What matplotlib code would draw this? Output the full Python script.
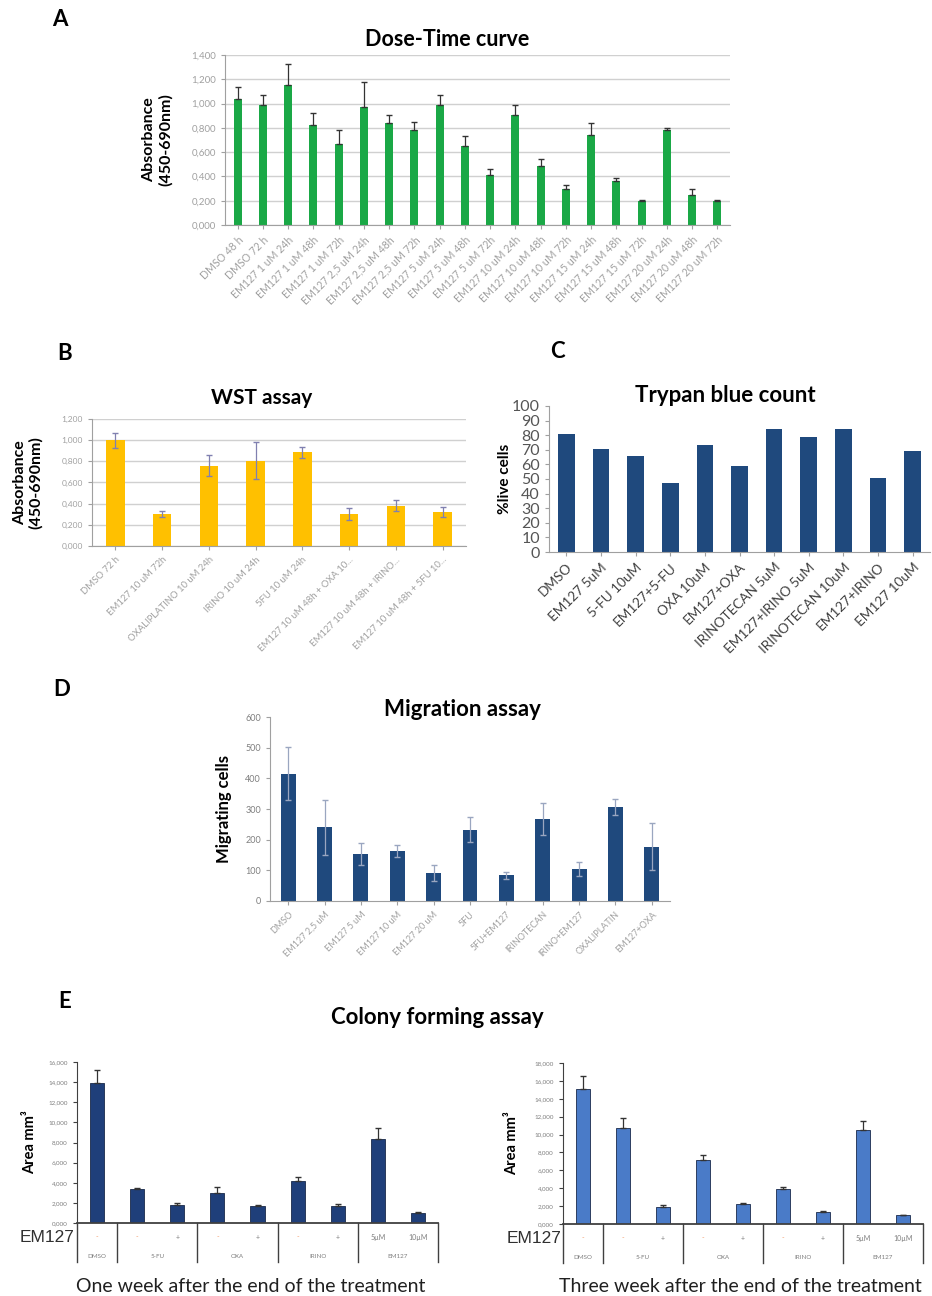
import numpy as np
import matplotlib
matplotlib.use("Agg")
import matplotlib.pyplot as plt
import matplotlib.transforms as mtrans

plt.rcParams['font.family'] = ['Lato', 'DejaVu Sans']

################################################################
# A - Dose-Time curve
dose_labels = ["DMSO 48 h", "DMSO 72 h",
               "EM127 1 uM 24h", "EM127 1 uM 48h", "EM127 1 uM 72h",
               "EM127 2,5 uM 24h", "EM127 2,5 uM 48h", "EM127 2,5 uM 72h",
               "EM127 5 uM 24h", "EM127 5 uM 48h", "EM127 5 uM 72h",
               "EM127 10 uM 24h", "EM127 10 uM 48h", "EM127 10 uM 72h",
               "EM127 15 uM 24h", "EM127 15 uM 48h", "EM127 15 uM 72h",
               "EM127 20 uM 24h", "EM127 20 uM 48h", "EM127 20 uM 72h"]
dose_vals = [1.04, 0.99, 1.15, 0.82, 0.67, 0.975, 0.84, 0.78, 0.99, 0.65,
             0.41, 0.91, 0.49, 0.30, 0.74, 0.365, 0.20, 0.78, 0.25, 0.20]
dose_err = [0.10, 0.08, 0.18, 0.10, 0.11, 0.205, 0.07, 0.07, 0.08, 0.08,
            0.05, 0.08, 0.05, 0.03, 0.10, 0.02, 0.01, 0.02, 0.05, 0.005]

# B - WST assay
wst_labels = ["DMSO 72 h", "EM127 10 uM 72h", "OXALIPLATINO 10 uM 24h",
              "IRINO 10 uM 24h", "5FU 10 uM 24h", "EM127 10 uM 48h + OXA 10...",
              "EM127 10 uM 48h + IRINO...", "EM127 10 uM 48h + 5FU 10..."]
wst_vals = [1.00, 0.30, 0.76, 0.805, 0.885, 0.30, 0.38, 0.32]
wst_err = [0.07, 0.03, 0.10, 0.175, 0.05, 0.057, 0.05, 0.05]

# C - Trypan blue count
tryp_labels = ["DMSO", "EM127 5uM", "5-FU 10uM", "EM127+5-FU", "OXA 10uM",
               "EM127+OXA", "IRINOTECAN 5uM", "EM127+IRINO 5uM",
               "IRINOTECAN 10uM", "EM127+IRINO", "EM127 10uM"]
tryp_vals = [81, 70.5, 66, 47.5, 73.5, 59, 84, 78.5, 84, 50.5, 69]

# D - Migration assay
mig_labels = ["DMSO", "EM127 2,5 uM", "EM127 5 uM", "EM127 10 uM", "EM127 20 uM",
              "5FU", "5FU+EM127", "IRINOTECAN", "IRINO+EM127", "OXALIPLATIN",
              "EM127+OXA"]
mig_vals = [415, 240, 153, 163, 92, 232, 84, 266, 103, 305, 177]
mig_err = [87, 89, 35, 21, 27, 41, 12, 52, 23, 26, 76]

# E - Colony forming assay
col_signs = ["-", "-", "+", "-", "+", "-", "+", "5µM", "10µM"]
col_groups = ["DMSO", "5-FU", "OXA", "IRINO", "EM127"]
week1_vals = [13.93, 3.37, 1.80, 2.97, 1.72, 4.16, 1.72, 8.32, 0.99]
week1_err = [1.32, 0.13, 0.15, 0.59, 0.10, 0.39, 0.18, 1.15, 0.06]
week3_vals = [15.13, 10.78, 1.93, 7.14, 2.23, 3.87, 1.38, 10.56, 0.97]
week3_err = [1.37, 1.12, 0.17, 0.63, 0.07, 0.22, 0.11, 0.93, 0.07]
################################################################

W, H = 932, 1296
fig = plt.figure(figsize=(W / 100, H / 100), dpi=100)
GRAY = "#7f7f7f"


def ax_px(l, t, r, b):
    return fig.add_axes([l / W, 1 - b / H, (r - l) / W, (b - t) / H])


def comma_fmt(v, nd=3):
    return f"{v:.{nd}f}".replace(".", ",")


def style_axes(ax, grid=False):
    for s in ["top", "right"]:
        ax.spines[s].set_visible(False)
    ax.spines["left"].set_color("#a0a0a0")
    ax.spines["bottom"].set_color("#a0a0a0")
    ax.tick_params(colors="#a0a0a0", length=3, width=0.8)
    if grid:
        ax.yaxis.grid(True, color="#d0d0d0", lw=1)
        ax.set_axisbelow(True)


def letter(x, y, s):
    fig.text(x / W, 1 - y / H, s, fontsize=16, fontweight="bold", ha="center", va="center")


def title(x, y, s, size=16):
    fig.text(x / W, 1 - y / H, s, fontsize=size, fontweight="bold", ha="center", va="center")


# ---------- A ----------
letter(60, 20, "A")
title(447, 40, "Dose-Time curve", 15.5)
ax = ax_px(225, 55, 730, 225)
x = np.arange(len(dose_vals))
ax.bar(x, dose_vals, 0.32, color="#1aa846", zorder=2)
ax.errorbar(x, dose_vals, yerr=[np.zeros(len(dose_err)), dose_err], fmt="none",
            ecolor="#333333", elinewidth=0.9, capsize=2, zorder=3)
ax.set_xlim(-0.5, len(x) - 0.5)
ax.set_ylim(0, 1.4)
yt = np.arange(0, 1.401, 0.2)
ax.set_yticks(yt)
ax.set_yticklabels([comma_fmt(v) for v in yt], fontsize=7, color=GRAY)
ax.set_xticks(x)
ax.set_xticklabels(dose_labels, rotation=45, ha="right", rotation_mode="anchor",
                   fontsize=7.6, color=GRAY)
style_axes(ax, grid=True)
ax.set_ylabel("Absorbance\n(450-690nm)", fontsize=11.5, fontweight="bold")
ax.yaxis.set_label_coords(-0.103, 0.5)

# ---------- B ----------
letter(65, 353, "B")
title(262, 398, "WST assay", 15)
ax = ax_px(92, 419, 466, 546)
x = np.arange(len(wst_vals))
ax.bar(x, wst_vals, 0.4, color="#ffc000", zorder=2)
ax.errorbar(x, wst_vals, yerr=wst_err, fmt="none", ecolor="#8080b0",
            elinewidth=0.9, capsize=2, zorder=3)
ax.set_xlim(-0.5, len(x) - 0.5)
ax.set_ylim(0, 1.2)
yt = np.arange(0, 1.201, 0.2)
ax.set_yticks(yt)
ax.set_yticklabels([comma_fmt(v) for v in yt], fontsize=6, color=GRAY)
ax.set_xticks(x)
ax.set_xticklabels(wst_labels, rotation=45, ha="right", rotation_mode="anchor",
                   fontsize=6.8, color=GRAY)
style_axes(ax, grid=True)
ax.set_ylabel("Absorbance\n(450-690nm)", fontsize=11.5, fontweight="bold")
ax.yaxis.set_label_coords(-0.13, 0.5)

# ---------- C ----------
letter(557, 352, "C")
title(725, 395, "Trypan blue count", 16)
ax = ax_px(549, 406, 930, 552)
x = np.arange(len(tryp_vals))
ax.bar(x, tryp_vals, 0.48, color="#1f497d", zorder=2)
ax.set_xlim(-0.5, len(x) - 0.5)
ax.set_ylim(0, 100)
ax.set_yticks(np.arange(0, 101, 10))
ax.set_xticks(x)
ax.set_xticklabels(tryp_labels, rotation=45, ha="right", rotation_mode="anchor",
                   fontsize=9.8, color="#404040")
style_axes(ax)
ax.tick_params(axis="y", labelcolor="#555555", labelsize=11.5)
ax.tick_params(axis="x", labelcolor="#404040")
ax.set_ylabel("%live cells", fontsize=11, fontweight="bold")
ax.yaxis.set_label_coords(-0.097, 0.5)

# ---------- D ----------
letter(62, 690, "D")
title(462, 710, "Migration assay", 16)
ax = ax_px(270, 717, 670, 901)
x = np.arange(len(mig_vals))
ax.bar(x, mig_vals, 0.41, color="#1f497d", zorder=2)
# symmetric bars, lower half shows faintly through the bar
ax.errorbar(x, mig_vals, yerr=mig_err, fmt="none",
            ecolor="#9aa6c0", elinewidth=0.9, capsize=2, zorder=3)
ax.set_xlim(-0.5, len(x) - 0.5)
ax.set_ylim(0, 600)
ax.set_yticks(np.arange(0, 601, 100))
ax.set_xticks(x)
ax.set_xticklabels(mig_labels, rotation=45, ha="right", rotation_mode="anchor",
                   fontsize=6.5, color=GRAY)
style_axes(ax)
ax.tick_params(axis="y", labelsize=6.5, labelcolor=GRAY)
ax.set_ylabel("Migrating cells", fontsize=12, fontweight="bold")
ax.yaxis.set_label_coords(-0.095, 0.5)

# ---------- E ----------
letter(65, 1002, "E")
title(437, 1017, "Colony forming assay", 16)


def colony(rect, vals, errs, color, ymax, label_x, caption, cap_x):
    ax = ax_px(*rect)
    x = np.arange(len(vals))
    ax.bar(x, vals, 0.35, color=color, edgecolor="#1a2a4a", lw=0.6, zorder=2)
    ax.errorbar(x, vals, yerr=[np.zeros(len(errs)), errs], fmt="none",
                ecolor="#333333", elinewidth=0.9, capsize=2, zorder=3)
    ax.set_xlim(-0.5, len(x) - 0.5)
    ax.set_ylim(0, ymax)
    yt = np.arange(0, ymax + 0.01, 2)
    ax.set_yticks(yt)
    ax.set_yticklabels([comma_fmt(v) for v in yt], fontsize=4.5, color=GRAY)
    ax.set_xticks([])
    for s in ["top", "right"]:
        ax.spines[s].set_visible(False)
    ax.spines["left"].set_color("#404040")
    ax.spines["bottom"].set_color("#404040")
    ax.spines["bottom"].set_linewidth(1.3)
    ax.tick_params(axis="y", colors="#404040", length=3)
    ax.tick_params(axis="y", labelcolor=GRAY)
    ax.set_ylabel("Area mm\u00b3", fontsize=10.5, fontweight="bold")
    ax.yaxis.set_label_coords(label_x, 0.5)
    tr = mtrans.blended_transform_factory(ax.transData, ax.transAxes)
    for i, s in enumerate(col_signs):
        c = "#f4a070" if s == "-" else GRAY
        ax.text(i, -0.087, s, transform=tr, ha="center", va="center", fontsize=5, color=c)
    grp_pos = [0, 1.5, 3.5, 5.5, 7.5]
    for p, g in zip(grp_pos, col_groups):
        ax.text(p, -0.21, g, transform=tr, ha="center", va="center", fontsize=4.5, color=GRAY)
    for b in [-0.5, 0.5, 2.5, 4.5, 6.5, 8.5]:
        ax.plot([b, b], [0, -0.245], transform=tr, color="#404040", lw=1, clip_on=False)
    ax.text(-0.55, -0.087, "EM127", transform=tr, ha="right", va="center",
            fontsize=12.5, color="#303030", family=["Liberation Sans", "DejaVu Sans"])
    fig.text(cap_x / W, 1 - 1287 / H, caption, fontsize=14, ha="center", va="center",
             color="#202020")
    return ax


colony((77, 1062, 438, 1223), week1_vals, week1_err, "#1f3f7a", 16, -0.11,
       "One week after the end of the treatment", 251)
colony((563, 1063, 923, 1224), week3_vals, week3_err, "#4a7bc8", 18, -0.122,
       "Three week after the end of the treatment", 740)

fig.savefig("out.png", dpi=100)
